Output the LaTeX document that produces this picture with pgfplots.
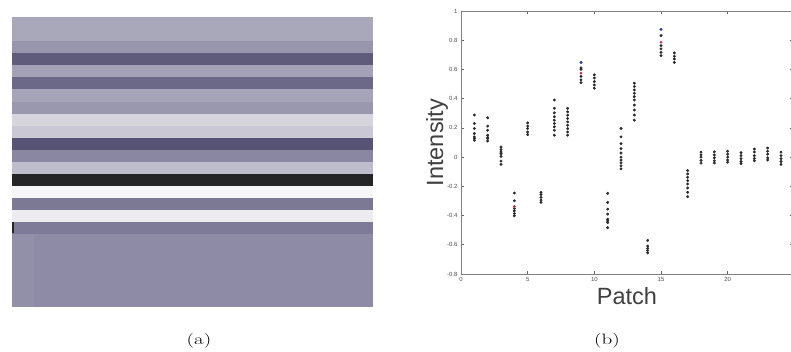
\documentclass[border=0pt]{standalone}
\usepackage{fontspec}
\setsansfont{Liberation Sans}
\usepackage{pgfplots}
\pgfplotsset{compat=1.18}
\definecolor{sA}{HTML}{A9A7BA}
\definecolor{sB}{HTML}{9896AD}
\definecolor{sC}{HTML}{5F5B7A}
\definecolor{sD}{HTML}{A4A2B7}
\definecolor{sE}{HTML}{6C6887}
\definecolor{sF}{HTML}{A6A4B8}
\definecolor{sG}{HTML}{9A98AF}
\definecolor{sH}{HTML}{D6D5DE}
\definecolor{sI}{HTML}{C9C8D4}
\definecolor{sJ}{HTML}{575374}
\definecolor{sK}{HTML}{8A87A2}
\definecolor{sL}{HTML}{BEBDCB}
\definecolor{sM}{HTML}{252527}
\definecolor{sN}{HTML}{F6F6F8}
\definecolor{sO}{HTML}{7C7995}
\definecolor{sP}{HTML}{ECECF0}
\definecolor{sQ}{HTML}{7E7B98}
\definecolor{sR}{HTML}{8E8BA6}
\definecolor{sS}{HTML}{9290A9}
\definecolor{dotc}{HTML}{2A2A2A}
\definecolor{bluec}{HTML}{203C9A}
\definecolor{redc}{HTML}{B8304A}
\pgfplotstableread{
x y
1 0.288
1 0.230
1 0.196
1 0.161
1 0.138
1 0.127
1 0.115
2 0.269
2 0.212
2 0.184
2 0.150
2 0.135
2 0.127
2 0.110
3 0.069
3 0.051
3 0.035
3 0.023
3 0.005
3 -0.028
3 -0.050
4 -0.246
4 -0.299
4 -0.352
4 -0.368
4 -0.386
4 -0.402
5 0.234
5 0.212
5 0.196
5 0.172
5 0.154
6 -0.241
6 -0.257
6 -0.276
6 -0.294
6 -0.310
7 0.391
7 0.334
7 0.303
7 0.276
7 0.253
7 0.230
7 0.207
7 0.184
7 0.150
8 0.334
8 0.310
8 0.287
8 0.264
8 0.241
8 0.218
8 0.195
8 0.172
8 0.150
9 0.610
9 0.600
9 0.552
9 0.529
9 0.510
10 0.563
10 0.541
10 0.517
10 0.494
10 0.472
11 -0.248
11 -0.310
11 -0.356
11 -0.390
11 -0.425
11 -0.437
11 -0.448
11 -0.483
12 0.196
12 0.138
12 0.092
12 0.058
12 0.028
12 0.000
12 -0.020
12 -0.040
12 -0.060
12 -0.080
13 0.506
13 0.483
13 0.460
13 0.437
13 0.414
13 0.391
13 0.356
13 0.322
13 0.288
13 0.253
14 -0.570
14 -0.609
14 -0.625
14 -0.639
14 -0.655
15 0.832
15 0.763
15 0.741
15 0.717
15 0.694
16 0.713
16 0.690
16 0.672
16 0.648
17 -0.092
17 -0.115
17 -0.138
17 -0.161
17 -0.184
17 -0.211
17 -0.241
17 -0.271
18 0.034
18 0.015
18 0.000
18 -0.023
18 -0.041
19 0.036
19 0.015
19 -0.005
19 -0.025
19 -0.040
20 0.040
20 0.020
20 0.000
20 -0.020
20 -0.035
21 0.030
21 0.010
21 -0.010
21 -0.030
21 -0.045
22 0.055
22 0.035
22 0.010
22 -0.010
22 -0.025
23 0.062
23 0.040
23 0.020
23 -0.005
23 -0.020
24 0.034
24 0.010
24 -0.010
24 -0.030
24 -0.050
}\pts
\begin{document}
\begin{tikzpicture}[x=1pt,y=1pt]
\useasboundingbox (0,0) rectangle (791,352);
% ---------- (a) stripe image ----------
\begin{axis}[at={(12pt,45pt)}, anchor=south west, scale only axis,
  width=361pt, height=290pt, hide axis,
  xmin=0, xmax=1, ymin=0, ymax=24]
\addplot[fill=sA, draw=none] coordinates {(0,22) (1,22) (1,24) (0,24)} -- cycle;
\addplot[fill=sB, draw=none] coordinates {(0,21) (1,21) (1,22) (0,22)} -- cycle;
\addplot[fill=sC, draw=none] coordinates {(0,20) (1,20) (1,21) (0,21)} -- cycle;
\addplot[fill=sD, draw=none] coordinates {(0,19) (1,19) (1,20) (0,20)} -- cycle;
\addplot[fill=sE, draw=none] coordinates {(0,18) (1,18) (1,19) (0,19)} -- cycle;
\addplot[fill=sF, draw=none] coordinates {(0,17) (1,17) (1,18) (0,18)} -- cycle;
\addplot[fill=sG, draw=none] coordinates {(0,16) (1,16) (1,17) (0,17)} -- cycle;
\addplot[fill=sH, draw=none] coordinates {(0,15) (1,15) (1,16) (0,16)} -- cycle;
\addplot[fill=sI, draw=none] coordinates {(0,14) (1,14) (1,15) (0,15)} -- cycle;
\addplot[fill=sJ, draw=none] coordinates {(0,13) (1,13) (1,14) (0,14)} -- cycle;
\addplot[fill=sK, draw=none] coordinates {(0,12) (1,12) (1,13) (0,13)} -- cycle;
\addplot[fill=sL, draw=none] coordinates {(0,11) (1,11) (1,12) (0,12)} -- cycle;
\addplot[fill=sM, draw=none] coordinates {(0,10) (1,10) (1,11) (0,11)} -- cycle;
\addplot[fill=sN, draw=none] coordinates {(0,9) (1,9) (1,10) (0,10)} -- cycle;
\addplot[fill=sO, draw=none] coordinates {(0,8) (1,8) (1,9) (0,9)} -- cycle;
\addplot[fill=sP, draw=none] coordinates {(0,7) (1,7) (1,8) (0,8)} -- cycle;
\addplot[fill=sQ, draw=none] coordinates {(0,6) (1,6) (1,7) (0,7)} -- cycle;
\addplot[fill=sR, draw=none] coordinates {(0,0) (1,0) (1,6) (0,6)} -- cycle;
\addplot[fill=sS, draw=none] coordinates {(0,0) (0.06,0) (0.06,6) (0,6)} -- cycle;
\addplot[fill=black!85, draw=none] coordinates {(0,6.1) (0.006,6.1) (0.006,7) (0,7)} -- cycle;
\end{axis}
% ---------- (b) scatter ----------
\begin{axis}[at={(461pt,78pt)}, anchor=south west, scale only axis,
  width=332pt, height=263pt,
  xmin=0, xmax=24.9, ymin=-0.8, ymax=1,
  xtick={0,5,10,15,20},
  ytick={-0.8,-0.6,-0.4,-0.2,0,0.2,0.4,0.6,0.8,1},
  tick align=inside, tickpos=both, major tick length=3pt,
  axis line style={black!50, line width=0.8pt},
  every tick/.style={black!60, line width=0.6pt},
  ticklabel style={font=\sffamily\fontsize{6}{7}\selectfont, text=black!70},
  /pgf/number format/assume math mode=true,
  xlabel={Patch}, ylabel={Intensity},
  label style={font=\sffamily\fontsize{23.5}{26}\selectfont, text=black!75},
  xlabel style={at={(axis description cs:0.5,-0.084)}, anchor=center},
  ylabel style={at={(axis description cs:-0.072,0.5)}, anchor=center},
  clip=false]
\addplot[only marks, mark=*, mark size=1.25pt, color=dotc] table[x=x,y=y] {\pts};
\addplot[only marks, mark=*, mark size=1.3pt, color=bluec] coordinates {(9,0.648) (15,0.874)};
\addplot[only marks, mark=*, mark size=1.2pt, color=redc] coordinates {(4,-0.338) (9,0.575) (15,0.786)};
\end{axis}
% ---------- captions ----------
\node[xscale=1.4] at (199,11) {\fontsize{15}{17}\selectfont (a)};
\node[xscale=1.4] at (607,11) {\fontsize{15}{17}\selectfont (b)};
\end{tikzpicture}
\end{document}
